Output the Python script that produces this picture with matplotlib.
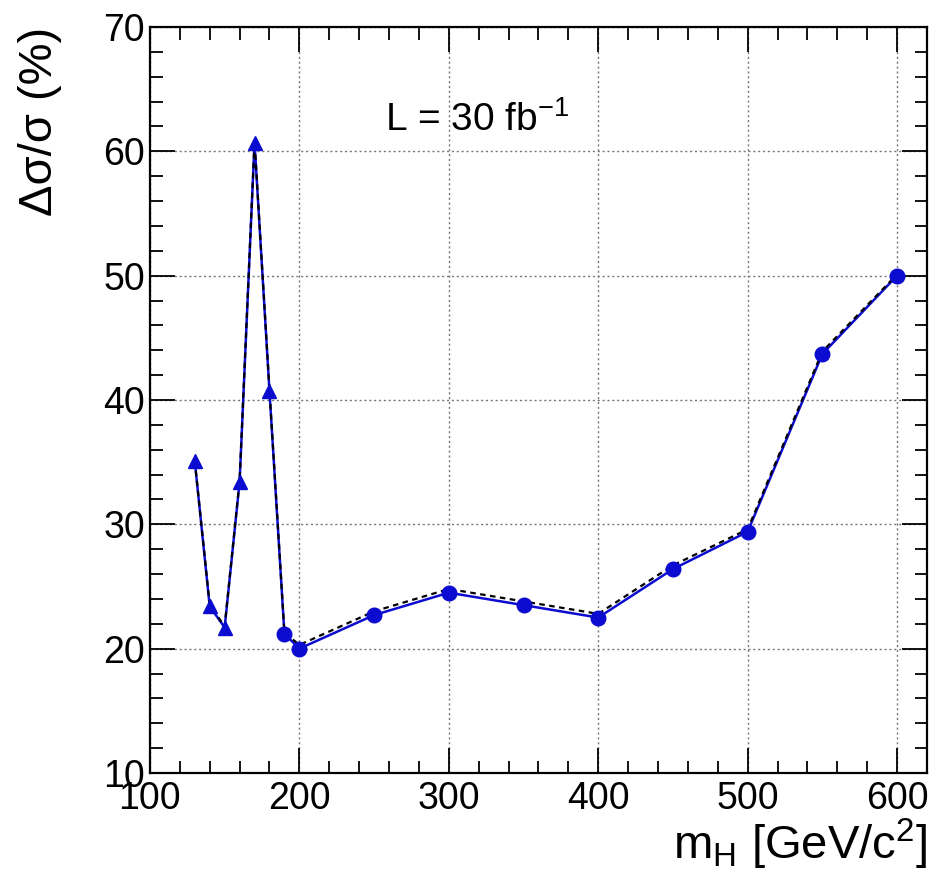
import matplotlib
matplotlib.use('Agg')
import matplotlib.pyplot as plt
from matplotlib.ticker import MultipleLocator

plt.rcParams['font.family'] = ['Liberation Sans', 'DejaVu Sans']
plt.rcParams['mathtext.default'] = 'regular'

# low-mass points (triangles)
mass_tri = [130, 140, 150, 160, 170, 180]
err_tri = [35.1, 23.4, 21.7, 33.4, 60.7, 40.7]
# high-mass points (circles)
mass_circ = [190, 200, 250, 300, 350, 400, 450, 500, 550, 600]
err_circ = [21.2, 20.0, 22.7, 24.5, 23.5, 22.5, 26.4, 29.4, 43.7, 50.0]
# second (dashed) curve
mass_dash = mass_tri + mass_circ
err_dash = [35.1, 23.5, 21.8, 33.5, 60.8, 40.8,
            21.3, 20.3, 23.0, 24.8, 23.8, 22.8, 26.7, 29.6, 43.9, 50.1]

fig = plt.figure(figsize=(9.43, 8.82), dpi=100)
ax = fig.add_axes([0.159, 0.1236, 0.824, 0.8458])

ax.plot(mass_tri + mass_circ, err_tri + err_circ, color='#0c0cd0', lw=1.8, zorder=2)
ax.plot(mass_dash, err_dash, color='black', lw=1.6, ls=(0, (2.5, 2)), zorder=3)
ax.plot(mass_tri, err_tri, ls='none', marker='^', ms=10.5, color='#0c0cd0', zorder=4)
ax.plot(mass_circ, err_circ, ls='none', marker='o', ms=10.5, color='#0c0cd0', zorder=4)

ax.set_xlim(100, 620)
ax.set_ylim(10, 70)
ax.xaxis.set_major_locator(MultipleLocator(100))
ax.xaxis.set_minor_locator(MultipleLocator(20))
ax.yaxis.set_major_locator(MultipleLocator(10))
ax.yaxis.set_minor_locator(MultipleLocator(2))
ax.tick_params(which='both', direction='in', top=True, right=True, labelsize=27, width=1.3)
ax.tick_params(which='major', length=18)
ax.tick_params(which='minor', length=9)
ax.tick_params(axis='x', pad=6)
ax.grid(True, which='major', color='#777777', ls=(0, (1.5, 2)), lw=1.0)
for s in ax.spines.values():
    s.set_linewidth(1.6)

ax.set_xlabel('m$_{H}$ [GeV/c$^{2}$]', fontsize=34, loc='right', labelpad=0)
ax.set_ylabel('Δσ/σ (%)', fontsize=34, loc='top', labelpad=30)
ax.text(0.421, 0.875, 'L = 30 fb$^{-1}$', transform=ax.transAxes, fontsize=28, ha='center', va='center')

fig.savefig('out.png', dpi=100)
